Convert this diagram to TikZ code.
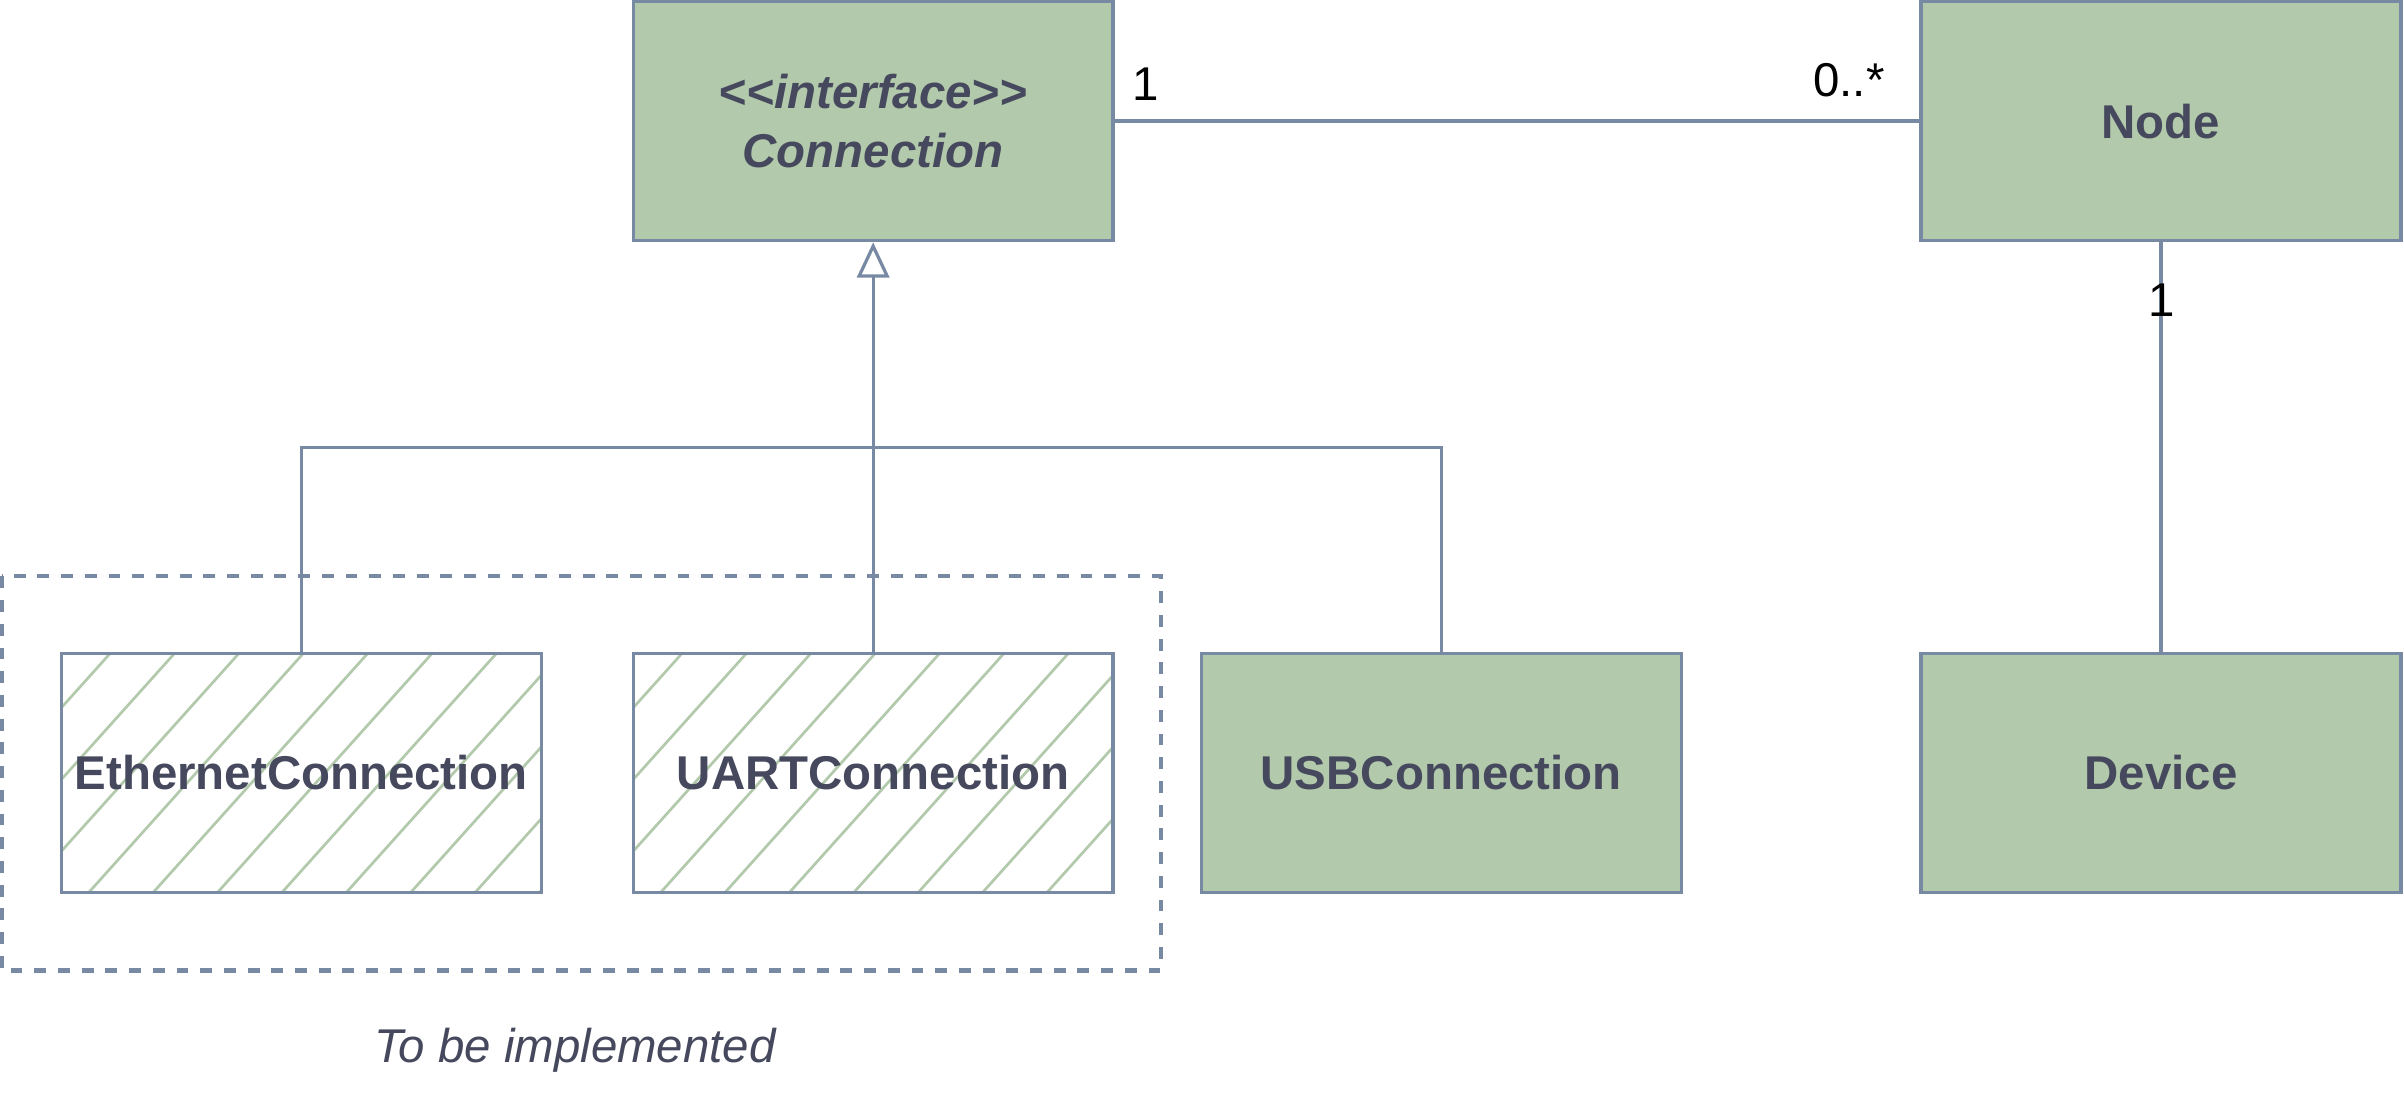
\documentclass[tikz,border=0pt]{standalone}
\usepackage{fontspec}
\setmainfont{Liberation Sans}
\usetikzlibrary{arrows.meta}
\definecolor{leaf}{HTML}{B2C9AB}
\definecolor{edge}{HTML}{788AA3}
\definecolor{ink}{HTML}{46495D}
\begin{document}
\begin{tikzpicture}[
		cls/.style={draw=edge, line width=0.6pt, minimum width=3.13cm, minimum height=1.56cm, inner sep=0pt,
			text=ink, font=\fontsize{8.8}{10.8}\selectfont\bfseries},
		filled/.style={cls, fill=leaf},
		hatched/.style={cls, fill=white, path picture={
				\foreach \x in {-1.50,-1.08,...,3.2}
					\draw[leaf, line width=0.5pt] ([xshift=\x cm]path picture bounding box.south west) -- ++(1.40,1.56);
			}},
		wire/.style={draw=edge, line width=0.6pt},
		mult/.style={font=\fontsize{8.8}{10.8}\selectfont, inner sep=1pt}
	]
		\useasboundingbox (0,0) rectangle (15.68,-7.2);
		\node[filled, align=center, font=\fontsize{8.8}{10.8}\selectfont\bfseries\itshape] (conn) at (5.695,-0.79) {{<}{<}interface{>}{>}\\Connection};
		\node[filled] (node) at (14.095,-0.79) {Node};
		\node[hatched] (eth) at (1.965,-5.04) {EthernetConnection};
		\node[hatched] (uart) at (5.695,-5.04) {UARTConnection};
		\node[filled] (usb) at (9.40,-5.04) {USBConnection};
		\node[filled] (dev) at (14.095,-5.04) {Device};
		\draw[edge, line width=0.75pt, dash pattern=on 2.2pt off 2.2pt] (0.01,-3.76) rectangle (7.57,-6.33);
		\node[text=ink, font=\fontsize{8.8}{10.8}\selectfont\itshape] (todo) at (3.75,-6.85) {To be implemented};
		\coordinate (bus) at (5.695,-2.92);
		\draw[wire] (eth.north) |- (bus) -| (usb.north);
		\draw[wire, -{Triangle[open, width=0.21cm, length=0.23cm]}] (uart.north) -- (conn.south);
		\draw[wire] (conn.east) -- (node.west);
		\draw[wire] (node.south) -- (dev.north);
		\node[mult] (m1) at (7.47,-0.55) {1};
		\node[mult] (m2) at (12.06,-0.52) {0..*};
		\node[mult] (m3) at (14.10,-1.96) {1};
	\end{tikzpicture}
\end{document}
